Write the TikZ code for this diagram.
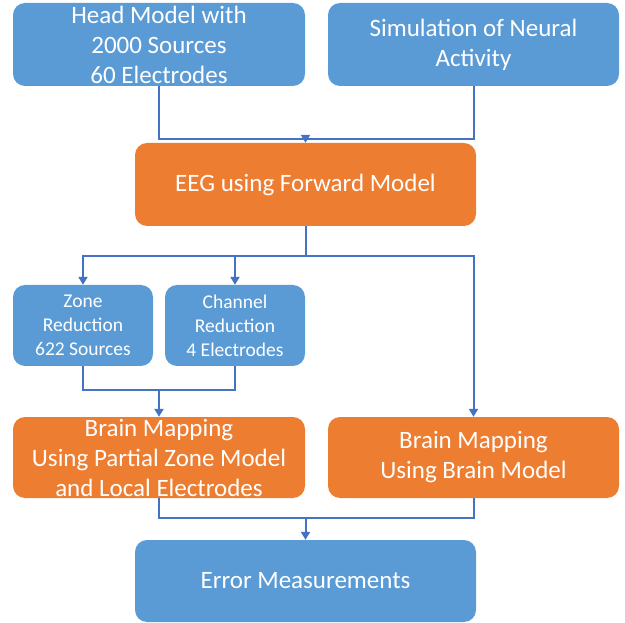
\documentclass[tikz,border=0pt]{standalone}
\usepackage{fontspec}
\setmainfont{Carlito}
\usetikzlibrary{arrows.meta}
\definecolor{boxblue}{HTML}{5B9BD5}
\definecolor{boxorange}{HTML}{ED7D31}
\definecolor{linecol}{HTML}{4472C4}
\begin{document}
\begin{tikzpicture}[x=1pt,y=-1pt,
  box/.style={rounded corners=12pt, draw=none, text=white, align=center, inner sep=0pt},
  bigtext/.style={font=\fontsize{25}{30}\selectfont},
  smalltext/.style={font=\fontsize{19.5}{24}\selectfont},
  bluebox/.style={box, fill=boxblue},
  orangebox/.style={box, fill=boxorange},
  conn/.style={draw=linecol, line width=2pt},
  arr/.style={conn, -{Triangle[width=9pt,length=8pt]}}
]
\useasboundingbox (0,0) rectangle (625,623);
\node[bluebox, bigtext, minimum width=292pt, minimum height=83pt] (head) at (159,44.5) {Head Model with\\2000 Sources\\60 Electrodes};
\node[bluebox, bigtext, minimum width=291pt, minimum height=83pt] (sim) at (473.5,44.5) {Simulation of Neural\\Activity};
\node[orangebox, bigtext, minimum width=341pt, minimum height=83pt] (eeg) at (305.5,184.5) {EEG using Forward Model};
\node[bluebox, smalltext, minimum width=140pt, minimum height=81pt] (zone) at (83,325.5) {Zone\\Reduction\\622 Sources};
\node[bluebox, smalltext, minimum width=140pt, minimum height=81pt] (chan) at (235,325.5) {Channel\\Reduction\\4 Electrodes};
\node[orangebox, bigtext, minimum width=292pt, minimum height=81pt] (partial) at (159,457.5) {Brain Mapping\\Using Partial Zone Model\\and Local Electrodes};
\node[orangebox, bigtext, minimum width=291pt, minimum height=81pt] (brain) at (473.5,457.5) {Brain Mapping\\Using Brain Model};
\node[bluebox, bigtext, minimum width=341pt, minimum height=82pt] (err) at (305.5,581) {Error Measurements};

\coordinate (j1) at (305.5,139);
\coordinate (j2) at (305.5,256);
\coordinate (j3) at (159,390);
\coordinate (j4) at (305.5,518);

\draw[conn] (head.south) |- (j1);
\draw[conn] (sim.south) |- (j1);
\draw[arr] (j1) -- (eeg.north);

\draw[conn] (eeg.south) -- (j2);
\draw[arr] (j2) -| (zone.north);
\draw[arr] (j2) -| (chan.north);
\draw[arr] (j2) -| (brain.north);

\draw[conn] (zone.south) |- (j3);
\draw[conn] (chan.south) |- (j3);
\draw[arr] (j3) -- (partial.north);

\draw[conn] (partial.south) |- (j4);
\draw[conn] (brain.south) |- (j4);
\draw[arr] (j4) -- (err.north);
\end{tikzpicture}
\end{document}
